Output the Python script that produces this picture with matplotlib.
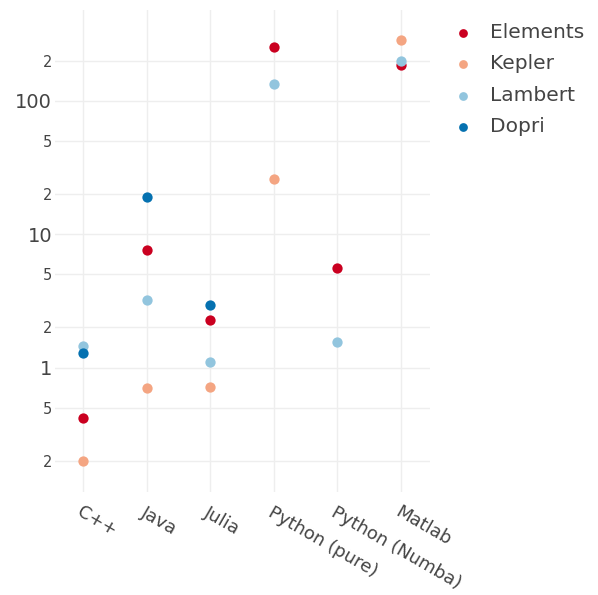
import matplotlib
matplotlib.use("Agg")
import matplotlib.pyplot as plt
from matplotlib.ticker import FixedLocator, NullLocator

languages = ["C++", "Java", "Julia", "Python (pure)", "Python (Numba)", "Matlab"]

# runtime relative values
elements = [0.42, 7.57, 2.29, 251, 5.61, 185]
kepler = [0.20, 0.70, 0.71, 25.8, None, 283]
lambert = [1.46, 3.2, 1.10, 133, 1.56, 198]
dopri = [1.28, 18.9, 2.96, None, None, None]

series = [
    ("Elements", elements, "#ca0020"),
    ("Kepler", kepler, "#f4a582"),
    ("Lambert", lambert, "#92c5de"),
    ("Dopri", dopri, "#0571b0"),
]

y_ticks = [0.2, 0.5, 1, 2, 5, 10, 20, 50, 100, 200]
y_labels = ["2", "5", "1", "2", "5", "10", "2", "5", "100", "2"]
major = {"1", "10", "100"}

plt.rcParams["font.family"] = ["DejaVu Sans"]
text_color = "#444444"

fig = plt.figure(figsize=(5.98, 5.95), dpi=100)
ax = fig.add_axes([55 / 598, 1 - 492 / 595, 375 / 598, 482 / 595])

for name, values, color in series:
    xs = [i for i, v in enumerate(values) if v is not None]
    ys = [v for v in values if v is not None]
    ax.scatter(xs, ys, s=55, color=color, label=name, linewidths=0, zorder=3)

ax.set_yscale("log")
ax.set_ylim(0.117, 478)
ax.set_xlim(-0.44, 5.46)
ax.yaxis.set_major_locator(FixedLocator(y_ticks))
ax.yaxis.set_minor_locator(NullLocator())
ax.set_yticklabels(y_labels)
for lab in ax.get_yticklabels():
    lab.set_fontsize(14 if lab.get_text() in major else 10.5)
    lab.set_color(text_color)

ax.set_xticks(range(len(languages)))
ax.set_xticklabels(languages, rotation=-30, ha="left", va="top",
                   rotation_mode="anchor", fontsize=13, color=text_color)
ax.tick_params(axis="both", length=0)
ax.tick_params(axis="x", pad=8)
ax.tick_params(axis="y", pad=2)

ax.grid(True, color="#eeeeee", linewidth=1)
ax.set_axisbelow(True)
for sp in ax.spines.values():
    sp.set_visible(False)

leg = fig.legend(loc="upper left", bbox_to_anchor=(453 / 598, 1 - 23 / 595),
                 frameon=False, fontsize=14.5, handlelength=1.0,
                 handletextpad=0.85, labelspacing=0.62, borderaxespad=0,
                 borderpad=0, markerscale=0.85)
for t in leg.get_texts():
    t.set_color(text_color)

fig.savefig("out.png", dpi=100)
